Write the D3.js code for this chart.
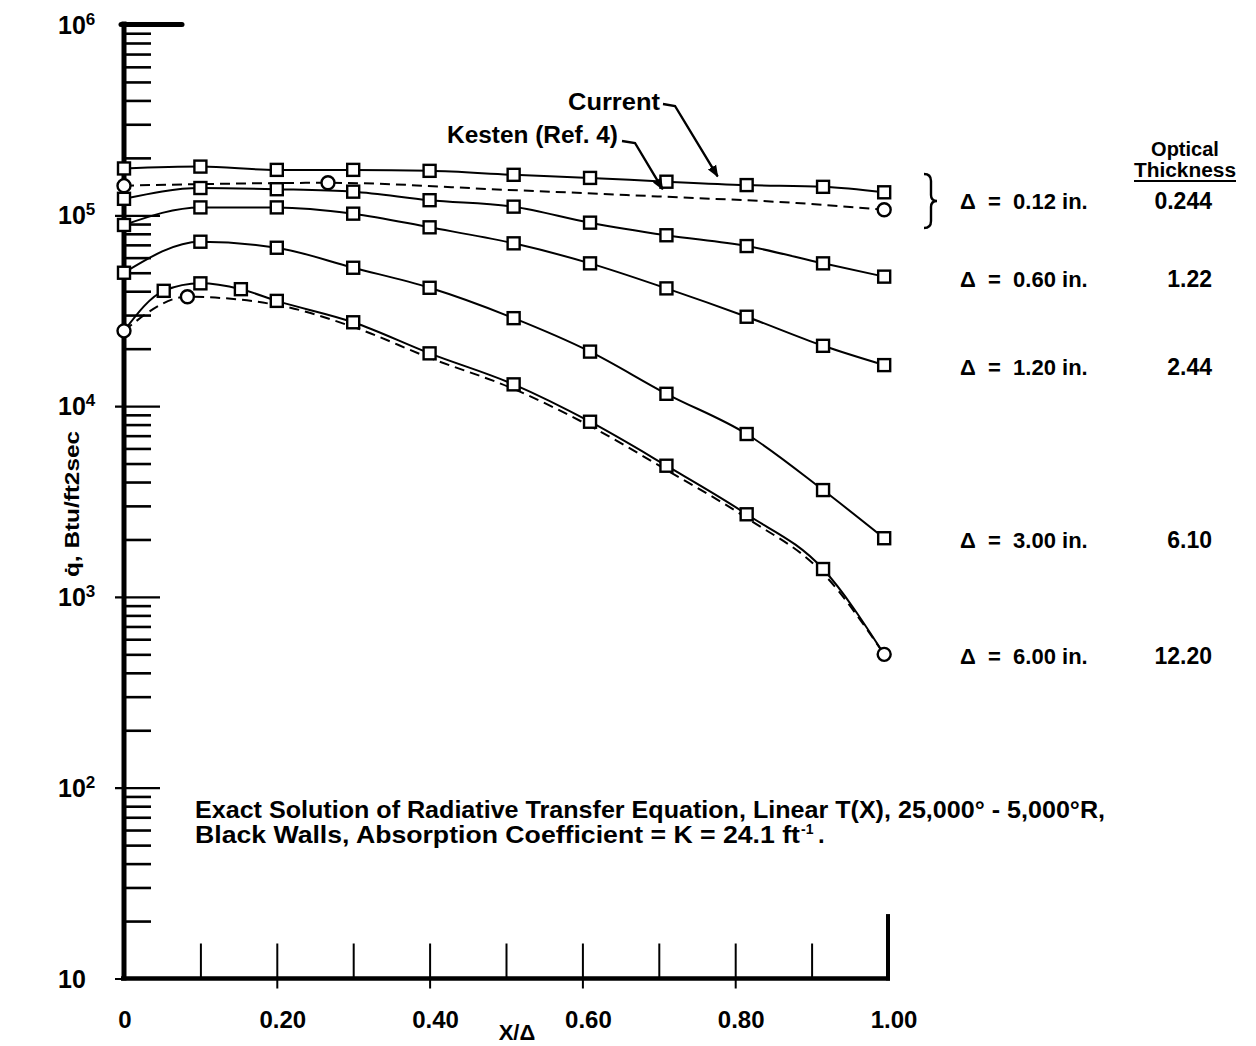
<!DOCTYPE html>
<html>
<head>
<meta charset="utf-8">
<script src="https://cdn.jsdelivr.net/npm/d3@7"></script>
<style>
  body { margin: 0; background: #fff; }
  svg text { font-family: "Liberation Sans", Arial, sans-serif; font-weight: bold; fill: #000; }
</style>
</head>
<body>
<div id="chart"></div>
<script>
// X/Delta positions of the plotted points ("Current" solution)
const xCurrent = [0, 0.1, 0.2, 0.3, 0.4, 0.51, 0.61, 0.71, 0.815, 0.915, 0.995];
const qCurrent012 = [1.76e5, 1.80e5, 1.73e5, 1.73e5, 1.71e5, 1.63e5, 1.57e5, 1.50e5, 1.44e5, 1.41e5, 1.32e5];
const qCurrent060 = [1.22e5, 1.39e5, 1.37e5, 1.33e5, 1.20e5, 1.11e5, 9.15e4, 7.86e4, 6.90e4, 5.60e4, 4.77e4];
const qCurrent120 = [8.9e4, 1.10e5, 1.10e5, 1.02e5, 8.65e4, 7.13e4, 5.60e4, 4.14e4, 2.94e4, 2.07e4, 1.64e4];
const qCurrent300 = [5.0e4, 7.27e4, 6.76e4, 5.31e4, 4.17e4, 2.89e4, 1.93e4, 1.16e4, 7.14e3, 3.63e3, 2.03e3];
const xCurrent600 = [0, 0.052, 0.1, 0.153, 0.2, 0.3, 0.4, 0.51, 0.61, 0.71, 0.815, 0.915, 0.995];
const qCurrent600 = [2.48e4, 4.02e4, 4.40e4, 4.10e4, 3.56e4, 2.75e4, 1.89e4, 1.30e4, 8.28e3, 4.87e3, 2.71e3, 1.40e3, 500];

// Kesten (Ref. 4), dashed
const xKesten012 = [0, 0.267, 0.5, 0.71, 0.88, 0.995];
const qKesten012 = [1.43e5, 1.48e5, 1.36e5, 1.25e5, 1.16e5, 1.07e5];
const circlesKesten012 = [0, 0.267, 0.995];
const xKesten600 = [0, 0.083, 0.2, 0.3, 0.4, 0.51, 0.61, 0.71, 0.815, 0.915, 0.995];
const qKesten600 = [2.48e4, 3.74e4, 3.39e4, 2.60e4, 1.79e4, 1.23e4, 7.86e3, 4.63e3, 2.59e3, 1.33e3, 500];
const circlesKesten600 = [0, 0.083, 0.995];

const deltaLabels = ['\u0394 = 0.12 in.', '\u0394 = 0.60 in.', '\u0394 = 1.20 in.', '\u0394 = 3.00 in.', '\u0394 = 6.00 in.'];
const opticalThickness = ['0.244', '1.22', '2.44', '6.10', '12.20'];

const xTickLabels = [0, 0.2, 0.4, 0.6, 0.8, 1.0];
const xTicks = [0.1, 0.2, 0.3, 0.4, 0.5, 0.6, 0.7, 0.8, 0.9];
const yDecades = [10, 100, 1e3, 1e4, 1e5, 1e6];
const yExponents = ['', '2', '3', '4', '5', '6'];

const noteLine1 = 'Exact Solution of Radiative Transfer Equation, Linear T(X), 25,000\u00b0 - 5,000\u00b0R,';
const noteLine2 = 'Black Walls, Absorption Coefficient = K = 24.1 ft';

const width = 1256;
const height = 1046;

const x = d3.scaleLinear().domain([0, 1]).range([124, 888]);
const y = d3.scaleLog().domain([10, 1e6]).range([978.5, 24.5]);

const svg = d3
  .select('#chart')
  .append('svg')
  .attr('width', width)
  .attr('height', height);

svg
  .append('defs')
  .append('marker')
  .attr('id', 'arrow')
  .attr('viewBox', '0 0 10 10')
  .attr('refX', 9)
  .attr('refY', 5)
  .attr('markerWidth', 5)
  .attr('markerHeight', 5)
  .attr('markerUnits', 'strokeWidth')
  .attr('orient', 'auto')
  .append('path')
  .attr('d', 'M0,1 L10,5 L0,9 Z')
  .attr('fill', '#000');

// ---- axes ----
const minorValues = [];
yDecades.slice(0, -1).forEach(d => {
  for (let k = 2; k <= 9; k += 1) minorValues.push(d * k);
});

const yMinorAxis = svg
  .append('g')
  .attr('transform', 'translate(125,0)')
  .call(d3.axisRight(y).tickValues(minorValues).tickSize(26).tickFormat(''));
yMinorAxis.select('.domain').remove();
yMinorAxis.selectAll('line').attr('stroke', '#000').attr('stroke-width', 2.6);

const yMajorAxis = svg
  .append('g')
  .attr('transform', 'translate(115,0)')
  .call(d3.axisRight(y).tickValues(yDecades.slice(0, -1)).tickSize(45).tickFormat(''));
yMajorAxis.select('.domain').remove();
yMajorAxis.selectAll('line').attr('stroke', '#000').attr('stroke-width', 2.2);

const xUpAxis = svg
  .append('g')
  .attr('transform', `translate(0,${y(10)})`)
  .call(d3.axisTop(x).tickValues(xTicks).tickSize(35).tickFormat(''));
xUpAxis.select('.domain').remove();
xUpAxis.selectAll('line').attr('stroke', '#000').attr('stroke-width', 2);

const xDownAxis = svg
  .append('g')
  .attr('transform', `translate(0,${y(10)})`)
  .call(d3.axisBottom(x).tickValues([0.2, 0.4, 0.6, 0.8]).tickSize(10).tickFormat(''));
xDownAxis.select('.domain').remove();
xDownAxis.selectAll('line').attr('stroke', '#000').attr('stroke-width', 2);

// heavy frame pieces
svg.append('line').attr('x1', x(0)).attr('x2', x(0)).attr('y1', y(1e6) - 3).attr('y2', y(10) + 2)
  .attr('stroke', '#000').attr('stroke-width', 5);
svg.append('line').attr('x1', x(0) - 3).attr('x2', 182).attr('y1', y(1e6)).attr('y2', y(1e6))
  .attr('stroke', '#000').attr('stroke-width', 5).attr('stroke-linecap', 'round');
svg.append('line').attr('x1', x(0) - 3).attr('x2', x(1) + 2).attr('y1', y(10)).attr('y2', y(10))
  .attr('stroke', '#000').attr('stroke-width', 4.5);
svg.append('line').attr('x1', x(1)).attr('x2', x(1)).attr('y1', y(20) - 7).attr('y2', y(10) + 2)
  .attr('stroke', '#000').attr('stroke-width', 4);

// tick labels
svg
  .selectAll('.xlabel')
  .data(xTickLabels)
  .join('text')
  .attr('class', 'xlabel')
  .attr('x', d => x(d) + (d === 0 ? 1 : 6))
  .attr('y', 1028)
  .attr('text-anchor', 'middle')
  .attr('font-size', 24)
  .text(d => (d === 0 ? '0' : d3.format('.2f')(d)));

const yLabels = svg
  .selectAll('.ylabel')
  .data(yDecades)
  .join('text')
  .attr('class', 'ylabel')
  .attr('x', 58)
  .attr('y', d => y(d) + 9)
  .attr('font-size', 25);
yLabels.append('tspan').text('10');
yLabels
  .append('tspan')
  .attr('dy', -9)
  .attr('font-size', 17)
  .text((d, i) => yExponents[i]);

svg
  .append('text')
  .attr('x', 517)
  .attr('y', 1040)
  .attr('text-anchor', 'middle')
  .attr('font-size', 22)
  .text('X/\u0394');

// rotated axis title, placed by its start so textLength stretches upward
svg
  .append('text')
  .attr('transform', 'translate(79,577) rotate(-90)')
  .attr('font-size', 21)
  .attr('textLength', 146)
  .attr('lengthAdjust', 'spacingAndGlyphs')
  .text('q\u0307, Btu/ft2sec');

// ---- curves ----
const line = d3
  .line()
  .x(d => x(d[0]))
  .y(d => y(d[1]))
  .curve(d3.curveMonotoneX);

const currentSeries = [
  d3.zip(xCurrent, qCurrent012),
  d3.zip(xCurrent, qCurrent060),
  d3.zip(xCurrent, qCurrent120),
  d3.zip(xCurrent, qCurrent300),
  d3.zip(xCurrent600, qCurrent600),
];
const kestenSeries = [
  {points: d3.zip(xKesten012, qKesten012), circles: circlesKesten012},
  {points: d3.zip(xKesten600, qKesten600), circles: circlesKesten600},
];

kestenSeries.forEach(s => {
  svg.append('path').datum(s.points).attr('d', line)
    .attr('fill', 'none').attr('stroke', '#000').attr('stroke-width', 2)
    .attr('stroke-dasharray', '10,6');
});

currentSeries.forEach(s => {
  svg.append('path').datum(s).attr('d', line)
    .attr('fill', 'none').attr('stroke', '#000').attr('stroke-width', 2);
});

// squares on the current solution (6.00 in. ends are Kesten circles)
const squarePts = currentSeries.flatMap((s, i) => (i === 4 ? s.slice(1, -1) : s));
svg
  .selectAll('.sq')
  .data(squarePts)
  .join('rect')
  .attr('class', 'sq')
  .attr('x', d => x(d[0]) - 6)
  .attr('y', d => y(d[1]) - 6)
  .attr('width', 12)
  .attr('height', 12)
  .attr('fill', '#fff')
  .attr('stroke', '#000')
  .attr('stroke-width', 2.4);

const circlePts = kestenSeries.flatMap(s => s.points.filter(p => s.circles.includes(p[0])));
svg
  .selectAll('.ci')
  .data(circlePts)
  .join('circle')
  .attr('class', 'ci')
  .attr('cx', d => x(d[0]))
  .attr('cy', d => y(d[1]))
  .attr('r', 6.5)
  .attr('fill', '#fff')
  .attr('stroke', '#000')
  .attr('stroke-width', 2.4);

// ---- right-hand labels ----
const lastCurrent = currentSeries.map(s => s[s.length - 1][1]);
const labelCenters = lastCurrent.map((v, i) => (i === 0 ? (y(v) + y(qKesten012[qKesten012.length - 1])) / 2 : y(v) + 2));

svg
  .selectAll('.dlabel')
  .data(deltaLabels)
  .join('text')
  .attr('class', 'dlabel')
  .attr('x', 960)
  .attr('y', (d, i) => labelCenters[i] + 8)
  .attr('font-size', 22)
  .attr('xml:space', 'preserve')
  .text(d => d.replace(' = ', '  =  '));

svg
  .selectAll('.olabel')
  .data(opticalThickness)
  .join('text')
  .attr('class', 'olabel')
  .attr('x', 1212)
  .attr('y', (d, i) => labelCenters[i] + 8)
  .attr('text-anchor', 'end')
  .attr('font-size', 23)
  .text(d => d);

svg.append('text').attr('x', 1185).attr('y', 156).attr('text-anchor', 'middle').attr('font-size', 20).text('Optical');
svg.append('text').attr('x', 1185).attr('y', 177).attr('text-anchor', 'middle').attr('font-size', 20)
  .attr('textLength', 102).attr('lengthAdjust', 'spacingAndGlyphs').text('Thickness');
svg.append('line').attr('x1', 1134).attr('x2', 1236).attr('y1', 181).attr('y2', 181)
  .attr('stroke', '#000').attr('stroke-width', 2);

// brace grouping the 0.12 in. pair
const braceTop = labelCenters[0] - 27;
const braceMid = labelCenters[0];
const braceBot = labelCenters[0] + 27;
svg
  .append('path')
  .attr('d', `M924,${braceTop} Q931,${braceTop} 931,${braceTop + 7} L931,${braceMid - 6} Q931,${braceMid} 937,${braceMid}
    Q931,${braceMid} 931,${braceMid + 6} L931,${braceBot - 7} Q931,${braceBot} 924,${braceBot}`)
  .attr('fill', 'none')
  .attr('stroke', '#000')
  .attr('stroke-width', 2.4);

// ---- leaders ----
svg.append('text').attr('x', 660).attr('y', 110).attr('text-anchor', 'end').attr('font-size', 23)
  .attr('textLength', 92).attr('lengthAdjust', 'spacingAndGlyphs').text('Current');
svg.append('text').attr('x', 618).attr('y', 143).attr('text-anchor', 'end').attr('font-size', 23)
  .attr('textLength', 171).attr('lengthAdjust', 'spacingAndGlyphs').text('Kesten (Ref. 4)');

svg.append('path')
  .attr('d', `M663,104 L675,106 L${x(0.777)},${y(1.6e5)}`)
  .attr('fill', 'none').attr('stroke', '#000').attr('stroke-width', 2.4)
  .attr('marker-end', 'url(#arrow)');
svg.append('path')
  .attr('d', `M622,141 L635,143 L${x(0.705)},${y(1.37e5)}`)
  .attr('fill', 'none').attr('stroke', '#000').attr('stroke-width', 2.4)
  .attr('marker-end', 'url(#arrow)');

// ---- note ----
svg.append('text').attr('x', 195).attr('y', 818).attr('font-size', 24)
  .attr('textLength', 910).attr('lengthAdjust', 'spacingAndGlyphs').text(noteLine1);
svg.append('text').attr('x', 195).attr('y', 843).attr('font-size', 24)
  .attr('textLength', 605).attr('lengthAdjust', 'spacingAndGlyphs').text(noteLine2);
svg.append('text').attr('x', 801).attr('y', 834).attr('font-size', 14).text('-1');
svg.append('text').attr('x', 818).attr('y', 843).attr('font-size', 24).text('.');
</script>
</body>
</html>
